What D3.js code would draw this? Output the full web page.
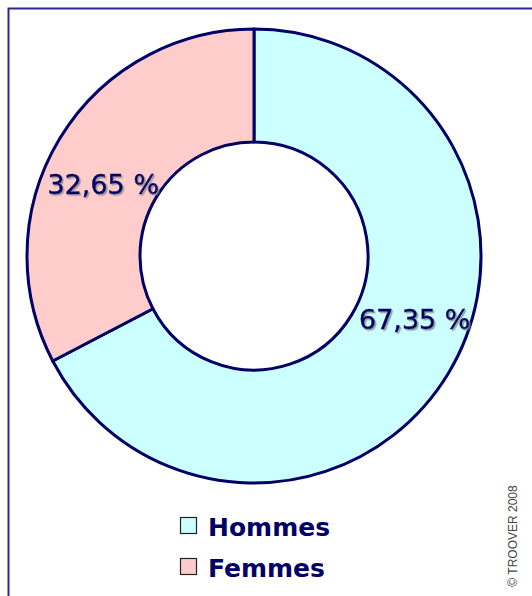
<!DOCTYPE html>
<html><head><meta charset="utf-8">
<script src="https://cdn.jsdelivr.net/npm/d3@7/dist/d3.min.js"></script>
<style>html,body{margin:0;padding:0;background:#fff;}svg{display:block;}</style>
</head><body>
<script>
const categories = ["Hommes", "Femmes"];
const values = [67.35, 32.65];
const labels = ["67,35 %", "32,65 %"];
const colors = ["#CCFFFF", "#FFCCCC"];
const credit = "© TROOVER 2008";

const W = 532, H = 596;
const cx = 254, cy = 256, R = 227, r = 114;
const navy = "#000066";

const svg = d3.select("body").append("svg").attr("width", W).attr("height", H);

const defs = svg.append("defs");
const f = defs.append("filter").attr("id","sh").attr("x","-10%").attr("y","-20%").attr("width","130%").attr("height","150%");
f.append("feDropShadow").attr("dx",1.5).attr("dy",1.5).attr("stdDeviation",0.6).attr("flood-color","#888").attr("flood-opacity",0.8);

// frame
svg.append("rect").attr("x",8.5).attr("y",8.5).attr("width",W).attr("height",H)
  .attr("fill","none").attr("stroke","#2a2a8a").attr("stroke-width",2);

const data = categories.map((c,i)=>({cat:c, value:values[i], label:labels[i], color:colors[i]}));
const pie = d3.pie().value(d=>d.value).sort(null);
const arcs = pie(data);
const arc = d3.arc().innerRadius(r).outerRadius(R);

const g = svg.append("g").attr("transform",`translate(${cx},${cy})`);
g.selectAll("path").data(arcs).join("path")
  .attr("d", arc).attr("fill", d=>d.data.color)
  .attr("stroke", navy).attr("stroke-width", 3).attr("stroke-linejoin","round");

// label placement (polar, degrees clockwise from top)
const labelPolar = [{a:111.7, rad:173}, {a:-64.5, rad:167}];
g.selectAll("text.lbl").data(arcs).join("text").attr("class","lbl")
  .attr("x",(d,i)=>labelPolar[i].rad*Math.sin(labelPolar[i].a*Math.PI/180))
  .attr("y",(d,i)=>-labelPolar[i].rad*Math.cos(labelPolar[i].a*Math.PI/180))
  .attr("text-anchor","middle").attr("dominant-baseline","central")
  .attr("font-family","DejaVu Sans").attr("font-size",27)
  .attr("fill",navy).attr("stroke",navy).attr("stroke-width",0.5)
  .attr("filter","url(#sh)")
  .text(d=>d.data.label);

// legend
const leg = svg.append("g").attr("transform","translate(180,517)");
const rows = leg.selectAll("g").data(data).join("g").attr("transform",(d,i)=>`translate(0,${i*41})`);
rows.append("rect").attr("x",0.5).attr("y",0.5).attr("width",16).attr("height",16)
  .attr("fill",d=>d.color).attr("stroke","#222").attr("stroke-width",1.2);
rows.append("text").attr("x",28).attr("y",19)
  .attr("font-family","DejaVu Sans").attr("font-weight","bold").attr("font-size",25)
  .attr("fill",navy).text(d=>d.cat);

// credit
svg.append("text").attr("transform","translate(517,536) rotate(-90)")
  .attr("text-anchor","middle").attr("font-family","Liberation Sans").attr("font-size",12)
  .attr("fill","#444").text(credit);
</script>
</body></html>
